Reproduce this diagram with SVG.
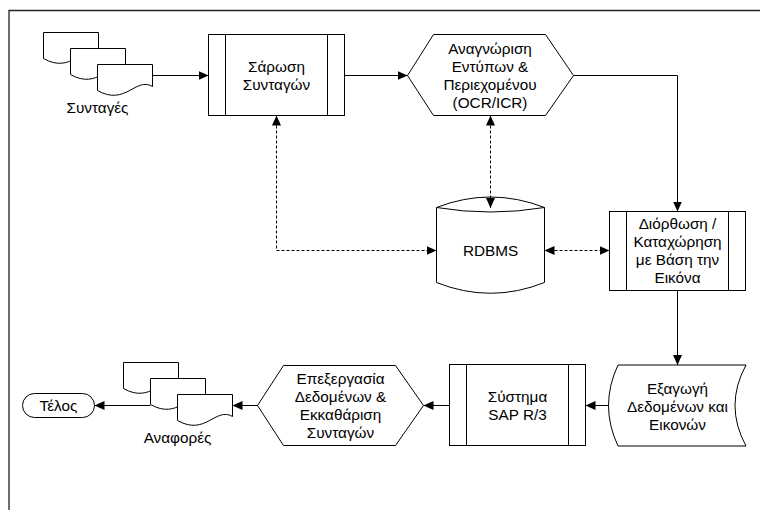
<svg xmlns="http://www.w3.org/2000/svg" width="760" height="510" viewBox="0 0 760 510">
<defs>
<style>
.s{fill:#fff;stroke:#000;stroke-width:1}
.ln{fill:none;stroke:#000;stroke-width:1}
.d{fill:none;stroke:#000;stroke-width:1;stroke-dasharray:3,2}
text{font-family:"Liberation Sans",Arial,sans-serif;font-size:15.3px;fill:#000;text-anchor:middle}
</style>
<marker id="a" viewBox="0 0 10 10" refX="10" refY="5" markerWidth="10" markerHeight="10" markerUnits="userSpaceOnUse" orient="auto-start-reverse">
<path d="M0,0.5 L10,5 L0,9.5 Z" fill="#000"/>
</marker>
<path id="doc" d="M0,0 H55 V22 C38,12 28,42 0,26 Z"/>
</defs>
<rect width="760" height="510" fill="#fff"/>
<g id="frame"><path d="M9,510 V10.5 H760" fill="none" stroke="#222" stroke-width="1.3"/></g>

<g id="prescriptions">
<use href="#doc" class="s" x="43.5" y="32.5"/>
<use href="#doc" class="s" x="70.5" y="48.5"/>
<use href="#doc" class="s" x="97.5" y="64.5"/>
<text x="97.5" y="113">Συνταγές</text>
</g>

<g id="scan">
<rect class="s" x="208.5" y="34.5" width="136" height="81"/>
<path class="ln" d="M225.5,34.5 V115.5 M327.5,34.5 V115.5"/>
<text x="276.5" y="72">Σάρωση</text>
<text x="276.5" y="90">Συνταγών</text>
</g>

<g id="ocr">
<polygon class="s" points="407.5,75.5 433.5,34.5 545.5,34.5 573.5,75.5 545.5,115.5 433.5,115.5"/>
<text x="490" y="53.5">Αναγνώριση</text>
<text x="490" y="71.5">Εντύπων &amp;</text>
<text x="490" y="89.5">Περιεχομένου</text>
<text x="490" y="107.5">(OCR/ICR)</text>
</g>

<g id="rdbms">
<path class="s" d="M436.5,207.5 Q490.5,186.5 544.5,207.5 V282.5 Q490.5,304 436.5,282.5 Z"/>
<path class="ln" d="M436.5,207.5 Q490.5,216.5 544.5,207.5"/>
<text x="490.5" y="256">RDBMS</text>
</g>

<g id="correction">
<rect class="s" x="609.5" y="211.5" width="136" height="79"/>
<path class="ln" d="M626.5,211.5 V290.5 M728.5,211.5 V290.5"/>
<text x="677.5" y="229">Διόρθωση /</text>
<text x="677.5" y="247">Καταχώρηση</text>
<text x="677.5" y="265">με Βάση την</text>
<text x="677.5" y="283">Εικόνα</text>
</g>

<g id="export">
<path class="s" d="M618,365 H746 Q724,405.5 746,446 H618 Q599,405.5 618,365 Z"/>
<text x="677.5" y="394">Εξαγωγή</text>
<text x="677.5" y="412">Δεδομένων και</text>
<text x="677.5" y="430">Εικονών</text>
</g>

<g id="sap">
<rect class="s" x="449.5" y="364.5" width="136" height="81"/>
<path class="ln" d="M466.5,364.5 V445.5 M568.5,364.5 V445.5"/>
<text x="517.5" y="401.5">Σύστημα</text>
<text x="517.5" y="419.5">SAP R/3</text>
</g>

<g id="processing">
<polygon class="s" points="257.5,405.5 283.5,365.5 395.5,365.5 423.5,405.5 395.5,445.5 283.5,445.5"/>
<text x="340.5" y="384">Επεξεργασία</text>
<text x="340.5" y="402">Δεδομένων &amp;</text>
<text x="340.5" y="420">Εκκαθάριση</text>
<text x="340.5" y="438">Συνταγών</text>
</g>

<g id="reports">
<use href="#doc" class="s" x="123.5" y="362.5"/>
<use href="#doc" class="s" x="150.5" y="378.5"/>
<use href="#doc" class="s" x="177.5" y="394.5"/>
<text x="177.5" y="443">Αναφορές</text>
</g>

<g id="end">
<rect class="s" x="22.5" y="393.5" width="72" height="24" rx="12" ry="12"/>
<text x="58.5" y="411">Τέλος</text>
</g>

<g id="connectors">
<path class="ln" d="M152.5,75.5 H208.5" marker-end="url(#a)"/>
<path class="ln" d="M344.5,75.5 H407.5" marker-end="url(#a)"/>
<path class="ln" d="M573.5,75.5 H677.5 V211.5" marker-end="url(#a)"/>
<path class="d" d="M276.5,115.5 V250.5 H436.5" marker-start="url(#a)" marker-end="url(#a)"/>
<path class="d" d="M490.5,115.5 V208" marker-start="url(#a)" marker-end="url(#a)"/>
<path class="d" d="M544.5,250.5 H609.5" marker-start="url(#a)" marker-end="url(#a)"/>
<path class="ln" d="M677.5,290.5 V365" marker-end="url(#a)"/>
<path class="ln" d="M608.5,405.5 H585.5" marker-end="url(#a)"/>
<path class="ln" d="M449.5,405.5 H423.5" marker-end="url(#a)"/>
<path class="ln" d="M257.5,405.5 H232.5" marker-end="url(#a)"/>
<path class="ln" d="M150.5,405.5 H94.5" marker-end="url(#a)"/>
</g>
</svg>
